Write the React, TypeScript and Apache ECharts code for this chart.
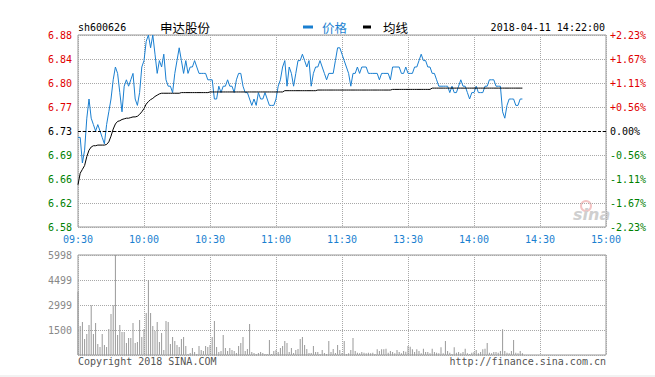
import React, { useEffect, useRef } from "react";
import * as echarts from "echarts";

const basePrice = 6.73;
const priceTicks = ["6.58", "6.62", "6.66", "6.69", "6.73", "6.77", "6.80", "6.84", "6.88"];
const pctTicks = ["-2.23%", "-1.67%", "-1.11%", "-0.56%", "0.00%", "+0.56%", "+1.11%", "+1.67%", "+2.23%"];
const timeTicks = ["09:30", "10:00", "10:30", "11:00", "11:30", "13:30", "14:00", "14:30", "15:00"];
const volTicks = ["", "1500", "2999", "4499", "5998"];

const prices = [
  6.72, 6.72, 6.68, 6.70, 6.75, 6.78, 6.75, 6.74, 6.73, 6.74,
  6.73, 6.72, 6.71, 6.74, 6.76, 6.78, 6.81, 6.83, 6.82, 6.79,
  6.76, 6.80, 6.81, 6.80, 6.81, 6.82, 6.78, 6.77, 6.79, 6.83,
  6.84, 6.87, 6.88, 6.86, 6.88, 6.85, 6.82, 6.84, 6.83, 6.85,
  6.81, 6.80, 6.80, 6.79, 6.82, 6.84, 6.86, 6.84, 6.82, 6.84,
  6.82, 6.83, 6.83, 6.84, 6.83, 6.82, 6.82, 6.82, 6.82, 6.81,
  6.81, 6.81, 6.78, 6.78, 6.80, 6.79, 6.80, 6.80, 6.81, 6.80,
  6.80, 6.79, 6.81, 6.82, 6.82, 6.80, 6.79, 6.79, 6.78, 6.77,
  6.78, 6.77, 6.79, 6.78, 6.78, 6.79, 6.78, 6.77, 6.77, 6.77,
  6.78, 6.80, 6.81, 6.83, 6.84, 6.80, 6.83, 6.82, 6.80, 6.82,
  6.84, 6.84, 6.85, 6.84, 6.83, 6.84, 6.80, 6.82, 6.83, 6.83,
  6.84, 6.83, 6.82, 6.81, 6.82, 6.82, 6.82, 6.84, 6.86, 6.86,
  6.85, 6.84, 6.83, 6.82, 6.80, 6.82, 6.82, 6.83, 6.82, 6.83,
  6.83, 6.83, 6.82, 6.82, 6.82, 6.82, 6.82, 6.81, 6.82, 6.82,
  6.82, 6.82, 6.81, 6.83, 6.83, 6.83, 6.83, 6.82, 6.82, 6.83,
  6.82, 6.82, 6.82, 6.83, 6.83, 6.84, 6.85, 6.84, 6.84, 6.83,
  6.83, 6.82, 6.82, 6.81, 6.80, 6.80, 6.80, 6.80, 6.80, 6.79,
  6.80, 6.79, 6.79, 6.80, 6.81, 6.80, 6.80, 6.79, 6.78, 6.79,
  6.79, 6.80, 6.79, 6.79, 6.79, 6.80, 6.80, 6.81, 6.81, 6.81,
  6.80, 6.80, 6.80, 6.76, 6.75, 6.77, 6.78, 6.78, 6.78, 6.77,
  6.77, 6.78, 6.78,
];

const avgPrices = [
  6.646, 6.664, 6.670, 6.676, 6.690, 6.700, 6.705, 6.707, 6.707, 6.708,
  6.708, 6.708, 6.708, 6.709, 6.713, 6.722, 6.733, 6.741, 6.745, 6.746,
  6.748, 6.749, 6.750, 6.750, 6.751, 6.752, 6.752, 6.753, 6.756, 6.760,
  6.765, 6.772, 6.776, 6.779, 6.781, 6.784, 6.786, 6.788, 6.789, 6.789,
  6.789, 6.789, 6.789, 6.789, 6.789, 6.789, 6.789, 6.790, 6.790, 6.790,
  6.790, 6.790, 6.790, 6.790, 6.790, 6.790, 6.790, 6.790, 6.790, 6.790,
  6.791, 6.791, 6.791, 6.791, 6.791, 6.791, 6.791, 6.791, 6.791, 6.791,
  6.791, 6.791, 6.791, 6.791, 6.791, 6.791, 6.791, 6.791, 6.791, 6.791,
  6.791, 6.791, 6.791, 6.791, 6.791, 6.791, 6.791, 6.791, 6.791, 6.791,
  6.791, 6.791, 6.791, 6.791, 6.793, 6.793, 6.793, 6.793, 6.793, 6.793,
  6.793, 6.793, 6.793, 6.793, 6.793, 6.793, 6.793, 6.793, 6.793, 6.794,
  6.794, 6.794, 6.794, 6.794, 6.794, 6.794, 6.794, 6.794, 6.794, 6.794,
  6.794, 6.794, 6.794, 6.794, 6.794, 6.794, 6.794, 6.794, 6.794, 6.794,
  6.794, 6.794, 6.794, 6.794, 6.794, 6.794, 6.794, 6.794, 6.794, 6.794,
  6.794, 6.794, 6.794, 6.795, 6.795, 6.795, 6.795, 6.795, 6.795, 6.795,
  6.795, 6.795, 6.795, 6.795, 6.795, 6.795, 6.795, 6.795, 6.795, 6.795,
  6.795, 6.797, 6.797, 6.797, 6.797, 6.797, 6.797, 6.797, 6.797, 6.797,
  6.797, 6.797, 6.797, 6.797, 6.797, 6.797, 6.797, 6.797, 6.797, 6.797,
  6.797, 6.797, 6.797, 6.797, 6.797, 6.797, 6.797, 6.797, 6.797, 6.797,
  6.797, 6.797, 6.797, 6.797, 6.797, 6.797, 6.797, 6.797, 6.797, 6.797,
  6.797, 6.797, 6.797,
];

const volumes = [
  3800, 1740, 1980, 960, 1260, 1800, 2980, 1260, 1920, 660,
  480, 1260, 600, 480, 1560, 2460, 2980, 5998, 1200, 1800,
  1380, 1380, 720, 1020, 1020, 1920, 720, 780, 2100, 1080,
  1560, 2520, 4500, 2520, 1740, 1440, 1980, 780, 1320, 300,
  2040, 1980, 660, 1080, 840, 600, 480, 960, 1080, 540,
  60, 120, 420, 180, 60, 540, 300, 240, 540, 480,
  600, 1080, 2040, 480, 180, 240, 1200, 420, 240, 420,
  300, 240, 120, 540, 720, 1080, 240, 360, 1860, 180,
  120, 60, 120, 180, 120, 60, 60, 900, 60, 240,
  300, 180, 420, 540, 840, 720, 180, 420, 120, 300,
  360, 960, 1080, 600, 360, 120, 120, 540, 180, 180,
  60, 300, 120, 60, 840, 180, 360, 120, 600, 300,
  120, 840, 60, 100, 300, 1020, 240, 140, 100, 180,
  140, 100, 140, 100, 140, 60, 340, 240, 340, 340,
  380, 140, 240, 180, 100, 300, 180, 100, 240, 200,
  540, 500, 340, 180, 340, 240, 100, 380, 180, 180,
  100, 380, 180, 140, 100, 460, 100, 840, 240, 140,
  60, 460, 140, 180, 100, 180, 380, 100, 60, 140,
  180, 300, 100, 180, 340, 380, 720, 140, 100, 180,
  180, 140, 240, 1540, 240, 140, 100, 240, 900, 140,
  100, 240, 100,
];

const MONO = "'DejaVu Sans Mono', 'Liberation Mono', monospace";
const CJK = "'Noto Sans CJK SC', sans-serif";
const BLUE = "#1a7fd0";
const RED = "#e00000";
const GREEN = "#008000";
const GRID_LINE = { show: true, lineStyle: { color: "#a8a8a8", type: [1, 1], width: 1 } };

export default function App() {
  const ref = useRef<HTMLDivElement>(null);
  useEffect(() => {
    if (!ref.current) return;
    const chart = echarts.init(ref.current, undefined, { renderer: "svg" });
    const pMin = basePrice - 0.15;
    const pMax = basePrice + 0.15;
    const pStep = 0.0375;
    const tickIdx = (v: number) => Math.round((v - pMin) / pStep);
    const style = (color: string) => ({ color, fontFamily: MONO, fontSize: 10 });
    const option: any = {
      animation: false,
      backgroundColor: "#ffffff",
      grid: [
        { left: 78, top: 35, width: 528, height: 192, show: true, borderColor: "#999", borderWidth: 1, backgroundColor: "transparent" },
        { left: 78, top: 255, width: 528, height: 100, show: true, borderColor: "#999", borderWidth: 1, backgroundColor: "transparent" },
      ],
      xAxis: [
        {
          type: "value", gridIndex: 0, min: 0, max: 240, interval: 30,
          axisLine: { show: false }, axisTick: { show: false },
          splitLine: GRID_LINE,
          axisLabel: {
            margin: 7, color: BLUE, fontFamily: MONO, fontSize: 10,
            formatter: (v: number) => timeTicks[Math.round(v / 30)] ?? "",
          },
        },
        {
          type: "value", gridIndex: 1, min: 0, max: 240, interval: 30,
          axisLine: { show: false }, axisTick: { show: false },
          splitLine: GRID_LINE, axisLabel: { show: false },
        },
      ],
      yAxis: [
        {
          type: "value", gridIndex: 0, min: pMin, max: pMax, interval: pStep,
          axisLine: { show: false }, axisTick: { show: false },
          splitLine: GRID_LINE,
          axisLabel: {
            margin: 6, fontFamily: MONO, fontSize: 10,
            formatter: (v: number) => {
              const i = tickIdx(v);
              const k = i > 4 ? "r" : i < 4 ? "g" : "k";
              return `{${k}|${priceTicks[i] ?? ""}}`;
            },
            rich: { r: style(RED), g: style(GREEN), k: style("#000") },
          },
        },
        {
          type: "value", gridIndex: 0, position: "right", min: pMin, max: pMax, interval: pStep,
          axisLine: { show: false }, axisTick: { show: false }, splitLine: { show: false },
          axisLabel: {
            margin: 4, fontFamily: MONO, fontSize: 10,
            formatter: (v: number) => {
              const i = tickIdx(v);
              const k = i > 4 ? "r" : i < 4 ? "g" : "k";
              return `{${k}|${pctTicks[i] ?? ""}}`;
            },
            rich: { r: style(RED), g: style(GREEN), k: style("#000") },
          },
        },
        {
          type: "value", gridIndex: 1, min: 0, max: 5998, interval: 1499.5,
          axisLine: { show: false }, axisTick: { show: false },
          splitLine: GRID_LINE,
          axisLabel: {
            margin: 6, color: "#888", fontFamily: MONO, fontSize: 10,
            formatter: (v: number) => volTicks[Math.round(v / 1499.5)] ?? "",
          },
        },
      ],
      series: [
        {
          type: "line", xAxisIndex: 0, yAxisIndex: 0, name: "价格",
          data: prices.map((p, i) => [i, p]),
          showSymbol: false, symbol: "none", silent: true,
          lineStyle: { color: BLUE, width: 1 },
          markLine: {
            silent: true, symbol: "none", label: { show: false },
            lineStyle: { color: "#000", type: [3, 2], width: 1 },
            data: [{ yAxis: basePrice }],
          },
        },
        {
          type: "line", xAxisIndex: 0, yAxisIndex: 0, name: "均线",
          data: avgPrices.map((p, i) => [i, p]),
          showSymbol: false, symbol: "none", silent: true,
          lineStyle: { color: "#000", width: 1 },
        },
        {
          type: "bar", xAxisIndex: 1, yAxisIndex: 2, name: "成交量",
          data: volumes.map((v, i) => [i, v]),
          barWidth: 1, silent: true,
          itemStyle: { color: "#999" },
        },
      ],
      graphic: [
        { type: "text", x: 78, y: 27.5, style: { text: "sh600626", fill: "#000", font: `10px ${MONO}`, verticalAlign: "middle", textVerticalAlign: "middle" } },
        { type: "text", x: 160, y: 27.5, style: { text: "申达股份", fill: "#000", font: `12.5px ${CJK}`, verticalAlign: "middle", textVerticalAlign: "middle" } },
        { type: "rect", shape: { x: 303, y: 25.5, width: 10, height: 3 }, style: { fill: BLUE } },
        { type: "text", x: 322, y: 27.5, style: { text: "价格", fill: BLUE, font: `12.5px ${CJK}`, verticalAlign: "middle", textVerticalAlign: "middle" } },
        { type: "rect", shape: { x: 363, y: 25.5, width: 8, height: 3 }, style: { fill: "#000" } },
        { type: "text", x: 383, y: 27.5, style: { text: "均线", fill: "#000", font: `12.5px ${CJK}`, verticalAlign: "middle", textVerticalAlign: "middle" } },
        { type: "text", x: 605, y: 27.5, style: { text: "2018-04-11 14:22:00", fill: "#000", font: `10px ${MONO}`, align: "right", textAlign: "right", verticalAlign: "middle", textVerticalAlign: "middle" } },
        { type: "text", x: 78, y: 361, style: { text: "Copyright 2018 SINA.COM", fill: "#555", font: `10px ${MONO}`, verticalAlign: "middle", textVerticalAlign: "middle" } },
        { type: "text", x: 606, y: 361, style: { text: "http://finance.sina.com.cn", fill: "#555", font: `10px ${MONO}`, align: "right", textAlign: "right", verticalAlign: "middle", textVerticalAlign: "middle" } },
        { type: "circle", shape: { cx: 586, cy: 206, r: 5 }, style: { fill: "none", stroke: "#f3c4c4", lineWidth: 2 } },
        { type: "text", x: 573, y: 214, style: { text: "sina", fill: "#cfcfcf", font: `italic bold 16px 'DejaVu Sans', sans-serif`, verticalAlign: "middle", textVerticalAlign: "middle" } },
        { type: "rect", shape: { x: 0, y: 375, width: 655, height: 2 }, style: { fill: "#f2f2f2" } },
      ],
    };
    chart.setOption(option);
    return () => chart.dispose();
  }, []);
  return (
    <div
      ref={ref}
      style={{ position: "fixed", left: 0, top: 0, width: 655, height: 377, background: "#fff" }}
    />
  );
}
